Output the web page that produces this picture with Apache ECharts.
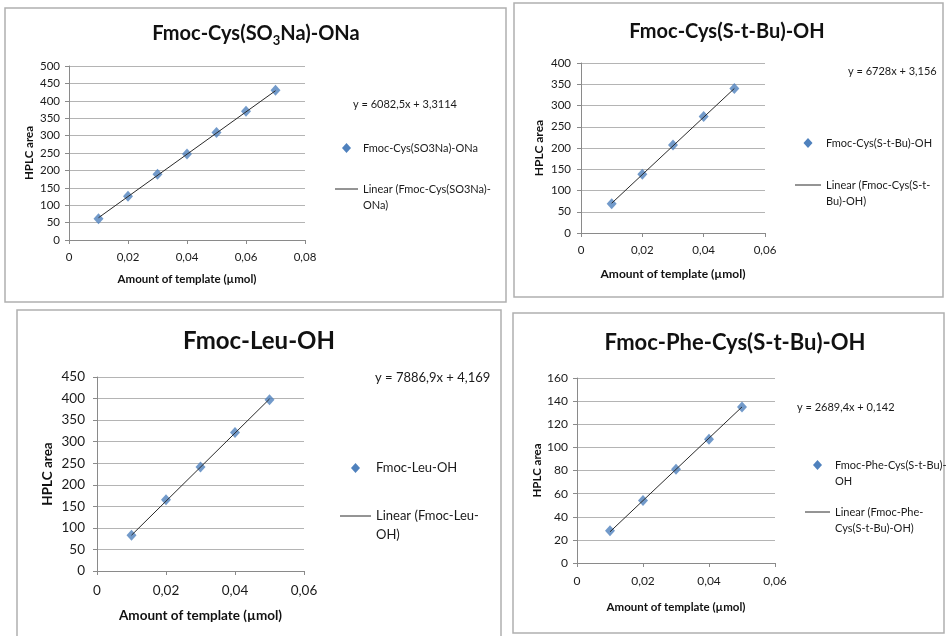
<!DOCTYPE html>
<html><head><meta charset="utf-8">
<script src="https://cdn.jsdelivr.net/npm/echarts@6/dist/echarts.min.js"></script>
<style>html,body{margin:0;padding:0;background:#fff}#c{width:947px;height:636px}</style>
</head><body><div id="c"></div>
<script>
// ---- data ----
const titles = ["Fmoc-Cys(SO3Na)-ONa", "Fmoc-Cys(S-t-Bu)-OH", "Fmoc-Leu-OH", "Fmoc-Phe-Cys(S-t-Bu)-OH"];
const equations = ["y = 6082,5x + 3,3114", "y = 6728x + 3,156", "y = 7886,9x + 4,169", "y = 2689,4x + 0,142"];
const xName = "Amount of template (µmol)";
const yName = "HPLC area";

const x1 = [0.01, 0.02, 0.03, 0.04, 0.05, 0.06, 0.07];
const y1 = [61, 126, 189, 247, 309, 370, 430];
const trendX1 = [0.01, 0.07];
const trendY1 = [64, 429];

const x2 = [0.01, 0.02, 0.03, 0.04, 0.05];
const y2 = [69, 138, 207, 274, 340];
const trendX2 = [0.01, 0.05];
const trendY2 = [70, 340];

const x3 = [0.01, 0.02, 0.03, 0.04, 0.05];
const y3 = [83, 165, 241, 321, 397];
const trendX3 = [0.01, 0.05];
const trendY3 = [83, 399];

const x4 = [0.01, 0.02, 0.03, 0.04, 0.05];
const y4 = [28, 54, 81, 107, 135];
const trendX4 = [0.01, 0.05];
const trendY4 = [27, 135];

const xMax = [0.08, 0.06, 0.06, 0.06];
const yMax = [500, 400, 450, 160];
const yStep = [50, 50, 50, 20];
const legendScatter = ["Fmoc-Cys(SO3Na)-ONa", "Fmoc-Cys(S-t-Bu)-OH", "Fmoc-Leu-OH", "Fmoc-Phe-Cys(S-t-Bu)-\nOH"];
const legendLinear = ["Linear (Fmoc-Cys(SO3Na)-\nONa)", "Linear (Fmoc-Cys(S-t-\nBu)-OH)", "Linear (Fmoc-Leu-\nOH)", "Linear (Fmoc-Phe-\nCys(S-t-Bu)-OH)"];

// ---- layout ----
const FONT = 'Lato, "Open Sans", sans-serif';
const panels = [
  {box:[5,8,501,294], grid:{left:69,top:66,width:236,height:174}, tick:11.5, axName:11.5, nameGapX:33, nameGapY:34, lblX:11, lblY:9,
   title:{x:256,y:34,size:20}, eq:{x:353,y:104,size:11}, leg:{x:335,y1:148,y2:189,size:11,w:23}},
  {box:[514,3,429,294], grid:{left:581,top:63,width:184,height:170}, tick:11.5, axName:12, nameGapX:35, nameGapY:36, lblX:11, lblY:10,
   title:{x:727,y:32,size:20}, eq:{x:848,y:71,size:11}, leg:{x:795,y1:143,y2:185,size:11,w:26}},
  {box:[17,310,484,330], grid:{left:97,top:377,width:207,height:194}, tick:13.5, axName:13.5, nameGapX:38, nameGapY:42, lblX:13, lblY:12,
   title:{x:259,y:341,size:24}, eq:{x:375,y:378,size:13}, leg:{x:340,y1:468,y2:516,size:13,w:31}},
  {box:[513,313,431,320], grid:{left:577,top:378,width:198,height:185}, tick:12, axName:11.5, nameGapX:38, nameGapY:34, lblX:12, lblY:9,
   title:{x:735,y:343,size:22}, eq:{x:797,y:407,size:11}, leg:{x:805,y1:465,y2:512,size:11,w:25}}
];
const xs = [x1, x2, x3, x4], ys = [y1, y2, y3, y4];
const txs = [trendX1, trendX2, trendX3, trendX4], tys = [trendY1, trendY2, trendY3, trendY4];

const fmt = v => v === 0 ? '0' : String(+v.toFixed(2)).replace('.', ',');
const grids = [], xAxes = [], yAxes = [], series = [], graphic = [];

panels.forEach((p, i) => {
  grids.push(Object.assign({containLabel:false}, p.grid));
  xAxes.push({type:'value', gridIndex:i, min:0, max:xMax[i], interval:0.02,
    name:xName, nameLocation:'middle', nameGap:p.nameGapX,
    nameTextStyle:{fontFamily:FONT, fontWeight:'bold', fontSize:p.axName, color:'#111'},
    axisLine:{show:true, onZero:false, lineStyle:{color:'#8a8a8a', width:1}},
    axisTick:{show:true, inside:false, length:4, lineStyle:{color:'#8a8a8a'}},
    axisLabel:{formatter:fmt, fontFamily:FONT, fontSize:p.tick, color:'#1a1a1a', margin:p.lblX},
    splitLine:{show:false}});
  yAxes.push({type:'value', gridIndex:i, min:0, max:yMax[i], interval:yStep[i],
    name:yName, nameLocation:'middle', nameGap:p.nameGapY,
    nameTextStyle:{fontFamily:FONT, fontWeight:'bold', fontSize:p.axName, color:'#111'},
    axisLine:{show:true, lineStyle:{color:'#8a8a8a', width:1}},
    axisTick:{show:true, inside:false, length:4, lineStyle:{color:'#8a8a8a'}},
    axisLabel:{fontFamily:FONT, fontSize:p.tick, color:'#1a1a1a', margin:p.lblY},
    splitLine:{show:true, lineStyle:{color:'#b4b4b4', width:1}}});
  series.push({type:'scatter', name:legendScatter[i], xAxisIndex:i, yAxisIndex:i,
    symbol:'diamond', symbolSize:[10,11], itemStyle:{color:'#4f81bd'}, z:3,
    data:xs[i].map((x, k) => [x, ys[i][k]])});
  series.push({type:'line', name:legendLinear[i], xAxisIndex:i, yAxisIndex:i,
    symbol:'none', lineStyle:{color:'#2a2a2a', width:1}, z:4, silent:true,
    data:txs[i].map((x, k) => [x, tys[i][k]])});

  // panel frame
  graphic.push({type:'rect', shape:{x:p.box[0], y:p.box[1], width:p.box[2], height:p.box[3]},
    style:{fill:'none', stroke:'#b0b0b0', lineWidth:1.5}, z:-1});
  // title
  let t = titles[i], tx;
  if (i === 0) tx = '{a|Fmoc-Cys(SO}{s|3}{a|Na)-ONa}';
  else tx = '{a|' + t + '}';
  graphic.push({type:'text', x:p.title.x, y:p.title.y, style:{text:tx, align:'center', verticalAlign:'middle',
    rich:{a:{fontFamily:FONT, fontWeight:'bold', fontSize:p.title.size, fill:'#111', lineHeight:26, verticalAlign:'middle'},
          s:{fontFamily:FONT, fontWeight:'bold', fontSize:13, fill:'#111', lineHeight:13, verticalAlign:'bottom'}}}});
  // equation
  graphic.push({type:'text', x:p.eq.x, y:p.eq.y, style:{text:equations[i], fontFamily:FONT, fontSize:p.eq.size, fill:'#1a1a1a', align:'left', verticalAlign:'middle'}});
  // legend: diamond
  const L = p.leg, cx = L.x + L.w / 2;
  graphic.push({type:'polygon', shape:{points:[[cx, L.y1-5],[cx+4.5, L.y1],[cx, L.y1+5],[cx-4.5, L.y1]]}, style:{fill:'#4f81bd'}});
  const lh = Math.round(L.size * 1.45);
  graphic.push({type:'text', x:L.x + L.w + 5, y:L.y1 - lh/2, style:{text:legendScatter[i], fontFamily:FONT, fontSize:L.size, lineHeight:lh, fill:'#1a1a1a', align:'left', verticalAlign:'top'}});
  graphic.push({type:'line', shape:{x1:L.x, y1:L.y2, x2:L.x + L.w, y2:L.y2}, style:{stroke:'#2a2a2a', lineWidth:1}});
  graphic.push({type:'text', x:L.x + L.w + 5, y:L.y2 - lh/2, style:{text:legendLinear[i], fontFamily:FONT, fontSize:L.size, lineHeight:lh, fill:'#1a1a1a', align:'left', verticalAlign:'top'}});
});

const chart = echarts.init(document.getElementById('c'), null, {renderer:'canvas'});
chart.setOption({animation:false, backgroundColor:'#fff', grid:grids, xAxis:xAxes, yAxis:yAxes, series:series, graphic:graphic});
</script></body></html>
